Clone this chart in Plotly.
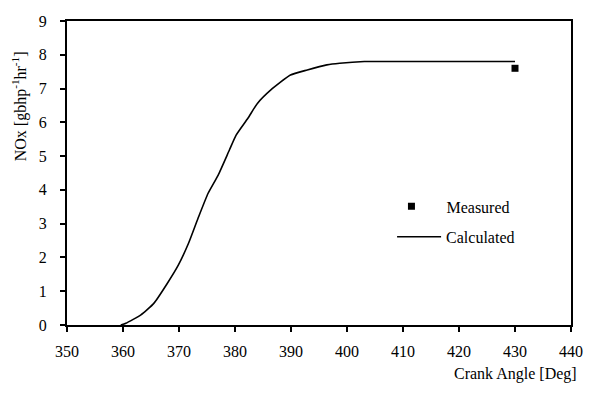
import plotly.graph_objects as go

# Calculated NOx curve (crank angle [deg], NOx [g/bhp-hr])
calc_angle = [359.6, 360.5, 363.2, 365.5, 367.9, 369.9, 371.7, 373.4, 375.2, 377.0,
              379.0, 380.2, 382.3, 384.0, 386.4, 389.9, 392.9, 396.4, 398.7, 403.1,
              410.0, 420.0, 430.0]
calc_nox = [0.0, 0.05, 0.30, 0.64, 1.23, 1.78, 2.42, 3.16, 3.90, 4.44,
            5.18, 5.62, 6.12, 6.56, 6.96, 7.40, 7.55, 7.70, 7.75, 7.80,
            7.80, 7.80, 7.80]

# Measured value
meas_angle = [430]
meas_nox = [7.6]

x_ticks = list(range(350, 441, 10))
y_ticks = list(range(0, 10, 1))

font_family = "Liberation Serif, Times New Roman, serif"
fs = 16

fig = go.Figure()
fig.add_trace(go.Scatter(
    x=meas_angle, y=meas_nox, mode="markers", name="Measured",
    marker=dict(symbol="square", size=7, color="black"),
    legend="legend", showlegend=True,
))
fig.add_trace(go.Scatter(
    x=calc_angle, y=calc_nox, mode="lines", name="Calculated",
    line=dict(color="black", width=1.6, shape="spline", smoothing=0.5),
    legend="legend2", showlegend=True,
))

axis_common = dict(
    showgrid=False, zeroline=False, showline=True, linecolor="black", linewidth=2,
    mirror=True, ticks="outside", ticklen=5, tickwidth=1.5, tickcolor="black",
    tickfont=dict(family=font_family, size=fs, color="black"),
)

fig.update_layout(
    width=595, height=394,
    margin=dict(l=67, r=18, t=21, b=69),
    paper_bgcolor="white", plot_bgcolor="white",
    showlegend=True,
    font=dict(family=font_family, size=fs, color="black"),
    xaxis=dict(range=[350, 440], tickvals=x_ticks, ticklabelstandoff=6, **axis_common),
    yaxis=dict(range=[0, 9], tickvals=y_ticks, ticklabelstandoff=10, **axis_common),
    legend=dict(x=0.614, y=0.39, xanchor="left", yanchor="middle", itemwidth=60,
                bgcolor="rgba(0,0,0,0)", font=dict(family=font_family, size=fs)),
    legend2=dict(x=0.645, y=0.29, xanchor="left", yanchor="middle", itemwidth=44,
                 bgcolor="rgba(0,0,0,0)", font=dict(family=font_family, size=fs)),
    annotations=[
        dict(text="Crank Angle [Deg]", xref="paper", yref="paper", x=1.015, y=-0.125,
             xanchor="right", yanchor="top", showarrow=False,
             font=dict(family=font_family, size=fs)),
        dict(text="NOx [gbhp<sup>-1</sup>hr<sup>-1</sup>]", xref="paper", yref="paper",
             x=-0.095, y=0.72, xanchor="center", yanchor="middle", textangle=-90,
             showarrow=False, font=dict(family=font_family, size=fs)),
    ],
)

fig.write_html("out.html")
